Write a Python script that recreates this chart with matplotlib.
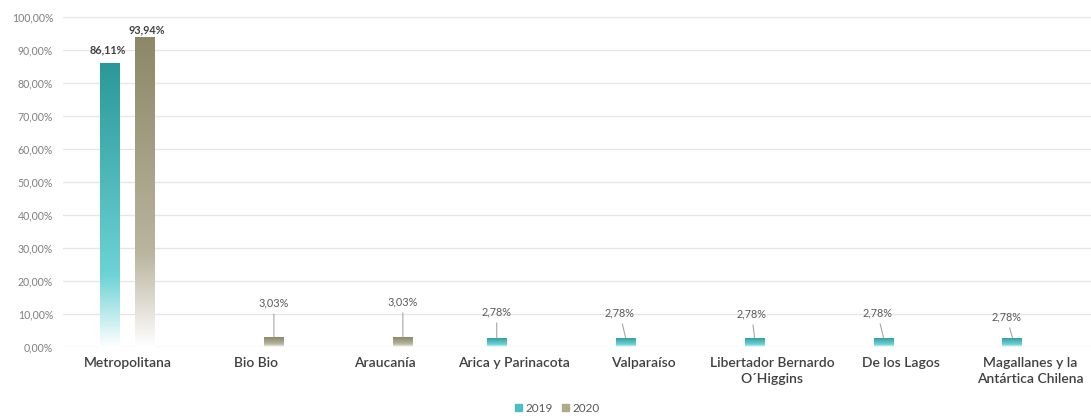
import numpy as np
import matplotlib
matplotlib.use('Agg')
import matplotlib.pyplot as plt
from matplotlib.colors import LinearSegmentedColormap
from matplotlib.patches import Patch

categories = ['Metropolitana', 'Bio Bio', 'Araucanía', 'Arica y Parinacota', 'Valparaíso',
              'Libertador Bernardo\nO´Higgins', 'De los Lagos', 'Magallanes y la\nAntártica Chilena']
series_names = ['2019', '2020']
values_2019 = [86.11, 0, 0, 2.78, 2.78, 2.78, 2.78, 2.78]
values_2020 = [93.94, 3.03, 3.03, 0, 0, 0, 0, 0]
yticks = [0, 10, 20, 30, 40, 50, 60, 70, 80, 90, 100]

plt.rcParams['font.family'] = ['Lato', 'DejaVu Sans']

# label offsets (pixels) from bar top: (dx, dy, leader line)
label_offsets = {
    ('2019', 0): (-2, 13, False), ('2020', 0): (2, 7, False),
    ('2020', 1): (0, 34, True), ('2020', 2): (0, 35, True),
    ('2019', 3): (0, 26, True), ('2019', 4): (-6, 25, True),
    ('2019', 5): (-3, 24, True), ('2019', 6): (-6, 25, True),
    ('2019', 7): (-6, 21, True),
}

cmaps = {
    '2019': LinearSegmentedColormap.from_list('c19', [(0, '#ffffff'), (0.25, '#6dd3d6'), (1, '#2a9898')]),
    '2020': LinearSegmentedColormap.from_list('c20', [(0, '#ffffff'), (0.3, '#b9b59f'), (1, '#8c8766')]),
}
legend_colors = {'2019': '#4bbfc6', '2020': '#b0aa8c'}

fig = plt.figure(figsize=(10.91, 4.19), dpi=100)
ax = fig.add_axes([0.0577, 0.1718, 0.9455, 0.7876])

x = np.arange(len(categories))
width = 0.155
offset = 0.136
grad = np.linspace(1, 0, 256).reshape(-1, 1)

for name, vals, sign in [('2019', values_2019, -1), ('2020', values_2020, 1)]:
    bars = ax.bar(x + sign * offset, vals, width, facecolor='none', edgecolor='none', zorder=3)
    for i, (b, v) in enumerate(zip(bars, vals)):
        if v <= 0:
            continue
        x0 = b.get_x()
        im = ax.imshow(grad, cmap=cmaps[name], vmin=0, vmax=1, aspect='auto',
                       extent=[x0, x0 + b.get_width(), 0, v], zorder=3)
        im.set_clip_path(b)
        dx, dy, leader = label_offsets[(name, i)]
        bold = i == 0
        ax.annotate(f'{v:.2f}%'.replace('.', ','), xy=(x[i] + sign * offset, v),
                    xytext=(dx, dy), textcoords='offset pixels', ha='center', va='center',
                    fontsize=7.8, fontweight='bold' if bold else 'normal',
                    color='#404040' if bold else '#595959', zorder=5,
                    arrowprops=dict(arrowstyle='-', color='#a6a6a6', lw=0.8, shrinkA=2, shrinkB=0)
                    if leader else None)

ax.set_xlim(-0.5, len(categories) - 0.5)
ax.set_ylim(0, 100)
ax.set_yticks(yticks)
ax.set_yticklabels([f'{t:.2f}%'.replace('.', ',') for t in yticks], fontsize=7.6, color='#7f7f7f')
ax.set_xticks(x)
ax.set_xticklabels(categories, fontsize=10, color='#404040', fontweight='semibold', linespacing=1.4)
ax.tick_params(axis='both', length=0)
ax.tick_params(axis='x', pad=7)
ax.tick_params(axis='y', pad=7)
ax.yaxis.grid(True, color='#e6e6e6', lw=1, zorder=0)
ax.set_axisbelow(True)
for s in ax.spines.values():
    s.set_visible(False)

handles = [Patch(color=legend_colors[n], label=n) for n in series_names]
fig.legend(handles=handles, loc='center', bbox_to_anchor=(0.511, 0.026), ncol=2, frameon=False,
           fontsize=8.5, handlelength=0.6, handleheight=0.6, handletextpad=0.3, columnspacing=0.8,
           labelcolor='#595959')

fig.savefig('out.png', dpi=100)
